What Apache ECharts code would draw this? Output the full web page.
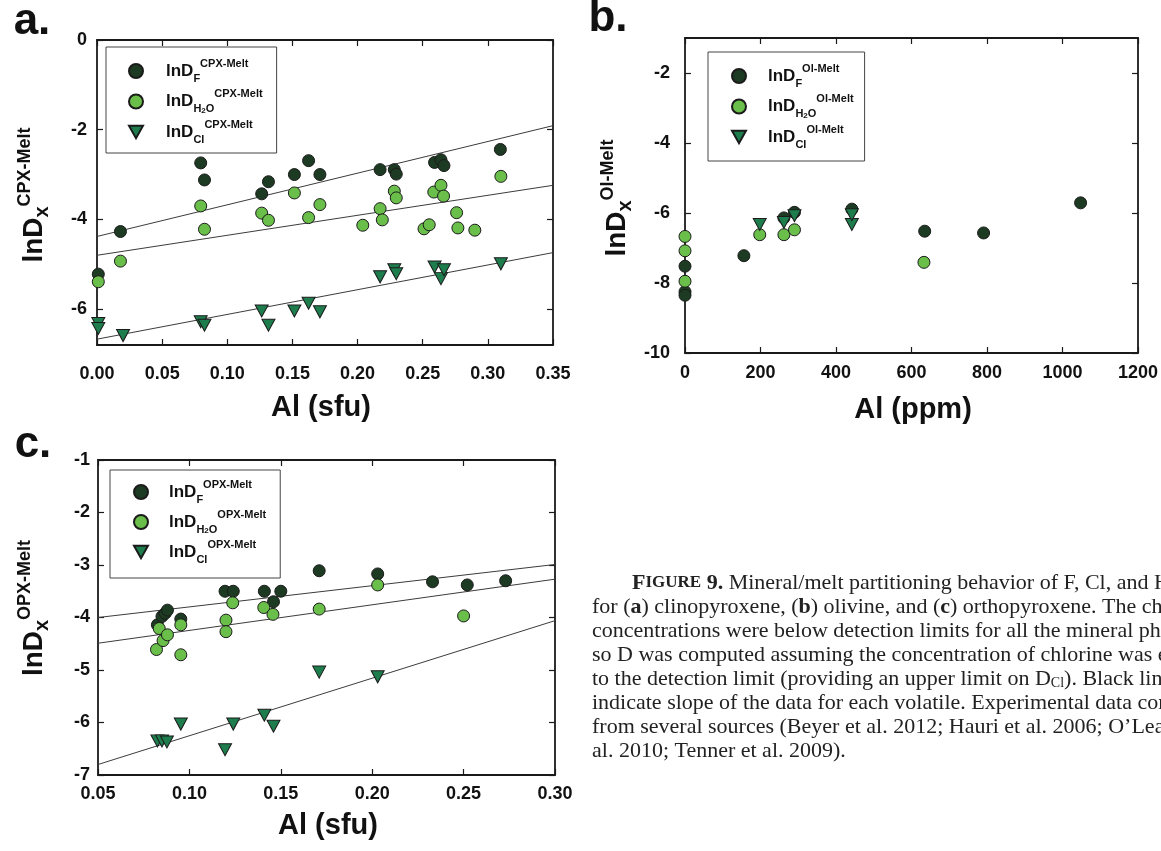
<!DOCTYPE html>
<html><head><meta charset="utf-8">
<script src="https://cdn.jsdelivr.net/npm/echarts@6/dist/echarts.min.js"></script>
<style>html,body{margin:0;padding:0;background:#fff}#c{width:1161px;height:851px}</style>
</head><body><div id="c"></div>
<script>
// ---------- tick labels ----------
const aTicksX = [0, 0.05, 0.10, 0.15, 0.20, 0.25, 0.30, 0.35];
const aTicksY = [-6, -4, -2, 0];
const bTicksX = [0, 200, 400, 600, 800, 1000, 1200];
const bTicksY = [-10, -8, -6, -4, -2];
const cTicksX = [0.05, 0.10, 0.15, 0.20, 0.25, 0.30];
const cTicksY = [-7, -6, -5, -4, -3, -2, -1];

// ---------- panel a: CPX-Melt ----------
const aF = [[0.001,-5.22],[0.018,-4.27],[0.0796,-2.74],[0.0825,-3.12],[0.1264,-3.43],[0.1316,-3.16],
  [0.1515,-3.00],[0.1624,-2.69],[0.1711,-3.00],[0.2173,-2.89],[0.2282,-2.89],[0.2297,-2.99],
  [0.2591,-2.73],[0.264,-2.67],[0.2663,-2.80],[0.3096,-2.44]];
const aH = [[0.001,-5.39],[0.018,-4.93],[0.0796,-3.70],[0.0825,-4.22],[0.1264,-3.86],[0.1316,-4.02],
  [0.1515,-3.41],[0.1624,-3.96],[0.1711,-3.67],[0.204,-4.13],[0.2173,-3.76],[0.219,-4.01],
  [0.2282,-3.37],[0.2297,-3.52],[0.251,-4.21],[0.255,-4.12],[0.2585,-3.39],[0.264,-3.24],
  [0.266,-3.48],[0.276,-3.85],[0.277,-4.19],[0.290,-4.24],[0.310,-3.04]];
const aC = [[0.001,-6.32],[0.001,-6.43],[0.020,-6.59],[0.0796,-6.28],[0.0825,-6.36],[0.1264,-6.04],
  [0.1316,-6.36],[0.1515,-6.04],[0.1624,-5.87],[0.1711,-6.06],[0.2173,-5.28],[0.2282,-5.12],
  [0.2297,-5.21],[0.2591,-5.06],[0.264,-5.32],[0.2663,-5.12],[0.310,-4.99]];
const aFitF = [[0, -4.38], [0.35, -1.91]];
const aFitH = [[0, -4.80], [0.35, -3.24]];
const aFitC = [[0, -6.67], [0.35, -4.74]];

// ---------- panel b: Ol-Melt ----------
const bF = [[0,-7.52],[0,-8.25],[0,-8.35],[156,-7.22],[262,-6.14],[290,-5.98],[442,-5.89],
  [635,-6.52],[791,-6.57],[1048,-5.71]];
const bH = [[0,-6.67],[0,-7.08],[0,-7.95],[198,-6.62],[262,-6.62],[290,-6.48],[633,-7.41]];
const bC = [[198,-6.33],[262,-6.27],[290,-6.08],[442,-6.33],[442,-6.05]];

// ---------- panel c: OPX-Melt ----------
const cF = [[0.0825,-4.14],[0.0850,-3.98],[0.0868,-3.92],[0.0880,-3.86],[0.0953,-4.03],[0.1195,-3.50],
  [0.124,-3.50],[0.141,-3.50],[0.146,-3.70],[0.150,-3.50],[0.171,-3.11],[0.203,-3.17],
  [0.233,-3.32],[0.252,-3.38],[0.273,-3.30]];
const cH = [[0.082,-4.61],[0.0835,-4.21],[0.0856,-4.44],[0.088,-4.33],[0.0953,-4.14],[0.0953,-4.71],
  [0.120,-4.05],[0.120,-4.27],[0.1237,-3.72],[0.1407,-3.81],[0.1457,-3.94],[0.171,-3.84],
  [0.203,-3.38],[0.250,-3.97]];
const cC = [[0.0825,-6.35],[0.085,-6.35],[0.0877,-6.37],[0.0953,-6.03],[0.1195,-6.52],[0.124,-6.03],
  [0.141,-5.86],[0.146,-6.07],[0.171,-5.04],[0.203,-5.13]];
const cFitF = [[0.05, -4.00], [0.30, -2.99]];
const cFitH = [[0.05, -4.49], [0.30, -3.27]];
const cFitC = [[0.05, -6.80], [0.30, -4.06]];

// ---------- styles ----------
const SANS = "'Liberation Sans', Arial, Helvetica, sans-serif";
const TICKFONT = "'Liberation Sans Narrow', 'Liberation Sans', Arial, sans-serif";
const SERIF = "'Liberation Serif', 'Times New Roman', serif";
const COL_F = '#1d3a22', COL_H = '#69bf49', COL_C = '#1e7d4c';
const TRI = 'path://M0,0L10,0L5,9Z';
const AXC = '#1a1a1a';

function axisPair(kind, grid, min, max, ticks, fmt, margin) {
  const base = {
    gridIndex: grid, type: 'value', min: min, max: max,
    axisLine: {show: true, onZero: false, lineStyle: {color: AXC, width: 1.8}},
    axisTick: {show: true, inside: true, length: 6, lineStyle: {color: AXC, width: 1.2}, customValues: ticks},
    splitLine: {show: false},
  };
  const main = Object.assign({}, base, {
    position: kind === 'x' ? 'bottom' : 'left',
    axisLabel: {show: true, customValues: ticks, formatter: fmt, margin: margin,
      fontFamily: TICKFONT, fontWeight: 'bold', fontSize: 18, color: '#111'}
  });
  const sec = Object.assign({}, base, {
    position: kind === 'x' ? 'top' : 'right',
    axisLabel: {show: false}
  });
  return [main, sec];
}
const f2 = v => v.toFixed(2);
const f0 = v => String(Math.round(v));

const xAxis = [].concat(
  axisPair('x', 0, 0, 0.35, aTicksX, f2, 20),
  axisPair('x', 1, 0, 1200, bTicksX, f0, 11),
  axisPair('x', 2, 0.05, 0.30, cTicksX, f2, 10)
);
const yAxis = [].concat(
  axisPair('y', 0, -6.8, 0, aTicksY, f0, 10),
  axisPair('y', 1, -10, -1, bTicksY, f0, 15),
  axisPair('y', 2, -7, -1, cTicksY, f0, 8)
);

function scat(name, idx, data, color, tri) {
  return {
    name: name, type: 'scatter', xAxisIndex: idx, yAxisIndex: idx, data: data,
    symbol: tri ? TRI : 'circle', symbolSize: tri ? [13, 12] : 12,
    itemStyle: {color: color, borderColor: '#1b1b1b', borderWidth: 1, opacity: 1},
    emphasis: {disabled: true}, z: 3
  };
}
function fit(idx, data) {
  return {
    type: 'line', xAxisIndex: idx, yAxisIndex: idx, data: data, symbol: 'none',
    lineStyle: {color: '#3c3c3c', width: 1}, silent: true, z: 2
  };
}
const series = [
  fit(0, aFitF), fit(0, aFitH), fit(0, aFitC),
  scat('aF', 0, aF, COL_F, false), scat('aH', 0, aH, COL_H, false), scat('aC', 0, aC, COL_C, true),
  scat('bF', 2, bF, COL_F, false), scat('bH', 2, bH, COL_H, false), scat('bC', 2, bC, COL_C, true),
  fit(4, cFitF), fit(4, cFitH), fit(4, cFitC),
  scat('cF', 4, cF, COL_F, false), scat('cH', 4, cH, COL_H, false), scat('cC', 4, cC, COL_C, true)
];

const legRich = {
  m: {fontFamily: SANS, fontWeight: 'bold', fontSize: 17, lineHeight: 26, color: '#111'},
  sb: {fontFamily: SANS, fontWeight: 'bold', fontSize: 11, lineHeight: 12, verticalAlign: 'bottom', color: '#111'},
  s2: {fontFamily: SANS, fontWeight: 'bold', fontSize: 8, lineHeight: 9, verticalAlign: 'bottom', color: '#111'},
  sp: {fontFamily: SANS, fontWeight: 'bold', fontSize: 11, lineHeight: 10, verticalAlign: 'top', color: '#111'}
};
const legText = {
  aF: '{m|lnD}{sb|F}{sp|CPX-Melt}', aH: '{m|lnD}{sb|H}{s2|2}{sb|O}{sp|CPX-Melt}', aC: '{m|lnD}{sb|Cl}{sp|CPX-Melt}',
  bF: '{m|lnD}{sb|F}{sp|Ol-Melt}', bH: '{m|lnD}{sb|H}{s2|2}{sb|O}{sp|Ol-Melt}', bC: '{m|lnD}{sb|Cl}{sp|Ol-Melt}',
  cF: '{m|lnD}{sb|F}{sp|OPX-Melt}', cH: '{m|lnD}{sb|H}{s2|2}{sb|O}{sp|OPX-Melt}', cC: '{m|lnD}{sb|Cl}{sp|OPX-Melt}'
};
function leg(names, left, top, pad, tpad, gap) {
  return {
    data: names, orient: 'vertical', left: left, top: top, padding: pad, itemGap: gap,
    itemWidth: 14, itemHeight: 14, borderColor: '#444', borderWidth: 1, backgroundColor: '#fff',
    selectedMode: false, formatter: n => legText[n],
    textStyle: {rich: legRich, padding: [0, 0, 0, tpad], fontFamily: SANS, fontWeight: 'bold', fontSize: 17}
  };
}
const legend = [
  leg(['aF', 'aH', 'aC'], 106, 47, [11, 14, 8, 22], 18, 4.5),
  leg(['bF', 'bH', 'bC'], 708, 52, [11, 11, 11, 23], 17, 4.5),
  leg(['cF', 'cH', 'cC'], 110, 470, [9, 14, 13, 23], 16, 4)
];

// ---------- graphic texts (titles, panel letters, caption) ----------
function ytitle(x, y, sup) {
  return {type: 'text', x: x, y: y, rotation: Math.PI / 2, style: {
    text: '{m|lnD}{sb|x}{sp|' + sup + '}', align: 'center', verticalAlign: 'middle',
    rich: {
      m: {fontFamily: SANS, fontWeight: 'bold', fontSize: 28, lineHeight: 36, fill: '#111'},
      sb: {fontFamily: SANS, fontWeight: 'bold', fontSize: 20, lineHeight: 8, verticalAlign: 'bottom', fill: '#111'},
      sp: {fontFamily: SANS, fontWeight: 'bold', fontSize: 18, lineHeight: 18, verticalAlign: 'top', fill: '#111'}
    }}};
}
function txt(x, y, s, size, family, weight) {
  return {type: 'text', x: x, y: y, style: {text: s, fontFamily: family, fontWeight: weight, fontSize: size,
    fill: '#111', align: 'center', verticalAlign: 'middle'}};
}
const capRich = {
  n: {fontFamily: SERIF, fontSize: 22, fill: '#222'},
  b: {fontFamily: SERIF, fontSize: 22, fontWeight: 'bold', fill: '#222'},
  bs: {fontFamily: SERIF, fontSize: 17, fontWeight: 'bold', fill: '#222'},
  s: {fontFamily: SERIF, fontSize: 14, fill: '#222', lineHeight: 12, verticalAlign: 'bottom'}
};
const captionLines = [
  '{b|F}{bs|IGURE}{b| 9.}{n| Mineral/melt partitioning behavior of F, Cl, and H}{s|2}{n|O}',
  '{n|for (}{b|a}{n|) clinopyroxene, (}{b|b}{n|) olivine, and (}{b|c}{n|) orthopyroxene. The chlorine}',
  '{n|concentrations were below detection limits for all the mineral phases,}',
  '{n|so D was computed assuming the concentration of chlorine was equal}',
  '{n|to the detection limit (providing an upper limit on D}{s|Cl}{n|). Black lines}',
  '{n|indicate slope of the data for each volatile. Experimental data compiled}',
  '{n|from several sources (Beyer et al. 2012; Hauri et al. 2006; O\u2019Leary et}',
  '{n|al. 2010; Tenner et al. 2009).}'
];
const graphic = [
  txt(32, 22, 'a.', 44, SANS, 'bold'),
  txt(608, 19, 'b.', 44, SANS, 'bold'),
  txt(33, 445, 'c.', 44, SANS, 'bold'),
  txt(321, 408, 'Al (sfu)', 29, SANS, 'bold'),
  txt(913, 410, 'Al (ppm)', 29, SANS, 'bold'),
  txt(328, 826, 'Al (sfu)', 29, SANS, 'bold'),
  ytitle(34, 195, 'CPX-Melt'),
  ytitle(617, 198, 'Ol-Melt'),
  ytitle(34, 608, 'OPX-Melt')
];
captionLines.forEach((s, i) => {
  graphic.push({type: 'text', x: i === 0 ? 632 : 592, y: 583 + 24 * i, style: {
    text: s, rich: capRich, align: 'left', verticalAlign: 'middle', fontFamily: SERIF, fontSize: 22, fill: '#222'}});
});

const chart = echarts.init(document.getElementById('c'), null, {renderer: 'canvas'});
chart.setOption({
  animation: false,
  backgroundColor: '#fff',
  grid: [
    {left: 97, top: 40, width: 456, height: 305},
    {left: 685, top: 38, width: 456, height: 315},
    {left: 98, top: 460, width: 457, height: 315}
  ],
  xAxis: xAxis, yAxis: yAxis, legend: legend, series: series, graphic: graphic
});
</script>
</body></html>
